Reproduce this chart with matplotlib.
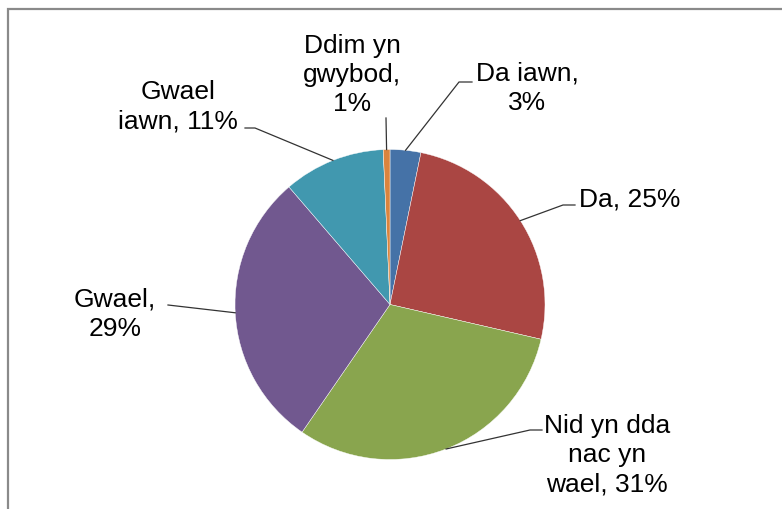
import matplotlib
matplotlib.use("AGG")

import matplotlib.pyplot as plt
import numpy as np
from matplotlib.patches import Rectangle

# ── Data ────────────────────────────────────────────────────────────────────
categories = ["Da iawn", "Da", "Nid yn dda nac yn wael", "Gwael", "Gwael iawn", "Ddim yn gwybod"]
shares = [3.2, 25.4, 31.0, 29.1, 10.6, 0.7]
colors = ["#4572A7", "#AA4643", "#89A54E", "#71588F", "#4198AF", "#DB843D"]

# label text as wrapped in the original chart
label_text = [
    "Da iawn,\n{}%",
    "Da, {}%",
    "Nid yn dda\nnac yn\nwael, {}%",
    "Gwael,\n{}%",
    "Gwael\niawn, {}%",
    "Ddim yn\ngwybod,\n{}%",
]

# ── Layout (pixels of the 782x509 canvas) ───────────────────────────────────
W, H = 782, 509
CX, CY, R = 390, 304.5, 155

# label anchor (x, y, ha), leader elbow, leader end
label_layout = [
    ((527, 88, "center"), (459, 82), (472, 82)),
    ((579, 199, "left"), (563, 205), (575, 205)),
    ((607, 455, "center"), (530, 430), (542, 430)),
    ((115, 314, "center"), None, (168, 305)),
    ((178, 107, "center"), (255, 128), (245, 128)),
    ((352, 75, "center"), None, (386, 118)),
]


def px(x, y):
    """Canvas pixel -> pie data coords."""
    return (x - CX) / R, (CY - y) / R


fig = plt.figure(figsize=(W / 100, H / 100), dpi=100, facecolor="white")
plt.rcParams["font.family"] = ["Liberation Sans", "DejaVu Sans"]

# frame of the chart area, cut off at right and bottom
fig.patches.append(Rectangle((8 / W, -0.1), 1.2, 1.1 - 9 / H, transform=fig.transFigure,
                             fill=False, edgecolor="#8a8a8a", linewidth=1.6))

ax = fig.add_axes([(CX - R) / W, (H - CY - R) / H, 2 * R / W, 2 * R / H])
wedges, _ = ax.pie(shares, colors=colors, startangle=90, counterclock=False, radius=1,
                   wedgeprops=dict(edgecolor="white", linewidth=0.3))
ax.set_xlim(-1, 1)
ax.set_ylim(-1, 1)
ax.set_aspect("equal")
ax.axis("off")

for w, fmt, val, (txt, elbow, end) in zip(wedges, label_text, shares, label_layout):
    mid = np.deg2rad((w.theta1 + w.theta2) / 2)
    pts = [(np.cos(mid), np.sin(mid))]
    if elbow is not None:
        pts.append(px(*elbow))
    pts.append(px(*end))
    xs, ys = zip(*pts)
    ax.plot(xs, ys, color="#333333", linewidth=0.9, clip_on=False)

    tx, ty, ha = txt
    ax.text(*px(tx, ty), fmt.format(round(val)), ha=ha, va="center", multialignment="center",
            fontsize=19, linespacing=1.27, color="black", clip_on=False)

fig.savefig("out.png", dpi=100, facecolor="white")
